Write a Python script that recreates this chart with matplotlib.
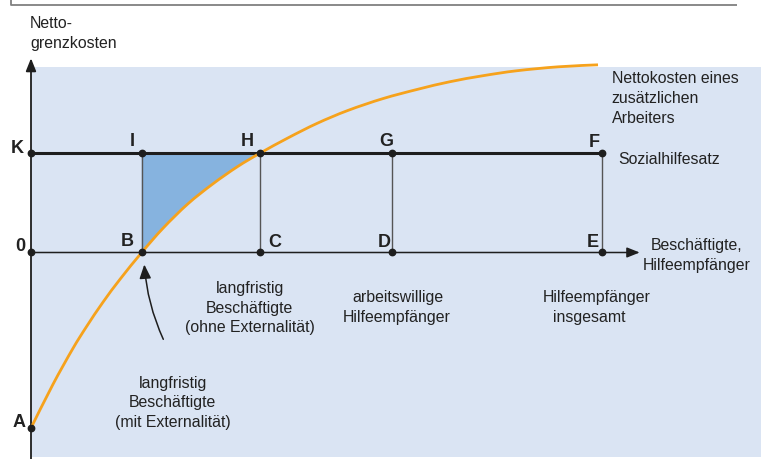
import matplotlib
matplotlib.use('Agg')
import matplotlib.pyplot as plt
from matplotlib.patches import Rectangle, FancyArrowPatch, PathPatch
from matplotlib.path import Path

plt.rcParams['font.family'] = ['Liberation Sans', 'DejaVu Sans']

# ---------------- data (abstract units) ----------------
curve_x = [0.0, 0.22, 0.42, 0.56, 0.725, 0.90, 1.115, 1.33, 1.58, 1.83, 2.08,
           2.306, 2.59, 2.88, 3.19, 3.545, 3.90, 4.22, 4.55, 4.89, 5.31, 5.71]
curve_y = [-1.767, -1.33, -0.97, -0.745, -0.50, -0.265, 0.0, 0.245, 0.49, 0.69, 0.865,
           1.0, 1.155, 1.30, 1.43, 1.55, 1.645, 1.72, 1.78, 1.83, 1.87, 1.89]

x_B, x_H, x_G, x_F = 1.115, 2.306, 3.64, 5.75
y_K = 1.0
y_A = -1.767
x_axis_end = 6.13
y_axis_end = 1.956

point_names = ['A', 'B', 'C', 'D', 'E', 'F', 'G', 'H', 'I', 'K', '0']
point_x = [0, x_B, x_H, x_G, x_F, x_F, x_G, x_H, x_B, 0, 0]
point_y = [y_A, 0, 0, 0, 0, y_K, y_K, y_K, y_K, y_K, 0]

y_label = ['Netto-', 'grenzkosten']
x_label = ['Beschäftigte,', 'Hilfeempfänger']
curve_label = ['Nettokosten eines', 'zusätzlichen', 'Arbeiters']
line_label = 'Sozialhilfesatz'
group_ohne = ['langfristig', 'Beschäftigte', '(ohne Externalität)']
group_mit = ['langfristig', 'Beschäftigte', '(mit Externalität)']
group_willig = ['arbeitswillige', 'Hilfeempfänger']
group_total = ['Hilfeempfänger', 'insgesamt']

# ---------------- layout ----------------
W, H = 761, 459
U = 99.3          # pixels per unit
X0, Y0 = 31, 252.5  # pixel position of origin

fig = plt.figure(figsize=(W / 100, H / 100), dpi=100)
ax = fig.add_axes([0, 0, 1, 1])
ax.set_xlim(-X0 / U, (W - X0) / U)
ax.set_ylim((Y0 - H) / U, Y0 / U)
ax.axis('off')


def d(px, py):
    return ((px - X0) / U, (Y0 - py) / U)


def smooth_path_parts(xs, ys):
    """Cubic Bezier segments passing through the given points (Catmull-Rom)."""
    pts = list(zip(xs, ys))
    n = len(pts)
    verts, codes = [pts[0]], [Path.MOVETO]
    for i in range(n - 1):
        p0 = pts[i - 1] if i > 0 else pts[i]
        p1 = pts[i]
        p2 = pts[i + 1]
        p3 = pts[i + 2] if i + 2 < n else pts[i + 1]
        c1 = (p1[0] + (p2[0] - p0[0]) / 6, p1[1] + (p2[1] - p0[1]) / 6)
        c2 = (p2[0] - (p3[0] - p1[0]) / 6, p2[1] - (p3[1] - p1[1]) / 6)
        verts += [c1, c2, p2]
        codes += [Path.CURVE4] * 3
    return verts, codes


BG = '#dae4f3'
FILL = '#86b3df'
ORANGE = '#f6a21c'
DARK = '#1e1e1e'
GRAY = '#555555'
TXT = '#222222'

# background panel
bx0, by0 = d(31, 456.7)
bx1, by1 = d(761, 66.7)
ax.add_patch(Rectangle((bx0, by0), bx1 - bx0, by1 - by0, facecolor=BG,
                       edgecolor='none', zorder=0))

# top frame remnant
tx = [d(10.7, -2)[0], d(10.7, 4.7)[0], d(737.3, 4.7)[0]]
ty = [d(10.7, -2)[1], d(10.7, 4.7)[1], d(737.3, 4.7)[1]]
ax.plot(tx, ty, color='#808080', lw=1.3, zorder=1, solid_capstyle='butt')

# shaded area between curve and K line (B..H)
i0, i1 = curve_x.index(x_B), curve_x.index(x_H)
fv, fc = smooth_path_parts(curve_x, curve_y)
seg_verts = fv[3 * i0: 3 * i1 + 1]
seg_codes = [Path.MOVETO] + [Path.CURVE4] * (3 * (i1 - i0))
fill_verts = [(x_B, y_K)] + seg_verts + [(x_H, y_K), (x_B, y_K)]
fill_codes = [Path.MOVETO, Path.LINETO] + seg_codes[1:] + [Path.LINETO, Path.CLOSEPOLY]
ax.add_patch(PathPatch(Path(fill_verts, fill_codes), facecolor=FILL,
                       edgecolor='none', zorder=1))

# vertical thin lines
for xv in [x_B, x_H, x_G, x_F]:
    ax.plot([xv, xv], [0, y_K], color=GRAY, lw=1.0, zorder=2)

# zero line with arrow
ax.annotate('', xy=(x_axis_end, 0), xytext=(0, 0),
            arrowprops=dict(arrowstyle='-|>,head_length=0.55,head_width=0.22',
                            color=DARK, lw=1.1, shrinkA=0, shrinkB=0,
                            mutation_scale=14), zorder=3)
# y axis with arrow
ax.annotate('', xy=(0, y_axis_end), xytext=(0, d(0, 459)[1]),
            arrowprops=dict(arrowstyle='-|>,head_length=0.55,head_width=0.22',
                            color=DARK, lw=1.3, shrinkA=0, shrinkB=0,
                            mutation_scale=14), zorder=3)
# K line (thick)
ax.plot([0, x_F], [y_K, y_K], color=DARK, lw=2.2, zorder=3, solid_capstyle='butt')

# curve (smooth path through the read points)
ax.add_patch(PathPatch(Path(fv, fc), facecolor='none', edgecolor=ORANGE,
                       lw=2.0, zorder=4, capstyle='butt'))

# points
ax.plot(point_x, point_y, 'o', ms=4.6, color=DARK, zorder=5)

# point labels (pixel offsets, y up)
offsets = {'A': (-12, 1), 'B': (-14, 6.5), 'C': (15, 5.7), 'D': (-8.5, 5.5),
           'E': (-9, 5.5), 'F': (-7.5, 6.5), 'G': (-6, 7), 'H': (-12.5, 7),
           'I': (-9.5, 6.7), 'K': (-13.5, 0.5), '0': (-11, 1.5)}
for name, px_, py_ in zip(point_names, point_x, point_y):
    ox, oy = offsets[name]
    ax.annotate(name, xy=(px_, py_), xytext=(ox, oy), textcoords='offset pixels',
                ha='center', va='baseline', fontsize=13, fontweight='bold',
                color=TXT, zorder=6)

FS = 11.4


def lines(texts, xs, baselines, ha='center'):
    for t, x, b in zip(texts, xs, baselines):
        ax.text(*d(x, b), t, fontsize=FS, color=TXT, ha=ha, va='baseline', zorder=6)


lines(y_label, [30, 30], [28, 48], ha='left')
lines(curve_label, [611.7] * 3, [83, 103, 123], ha='left')
lines([line_label], [618], [164.5], ha='left')
lines(x_label, [696.5, 697], [250, 270])
lines(group_ohne, [249.8, 249.8, 250], [292.5, 312.5, 332])
lines(group_mit, [172.8, 172.5, 172.5], [388, 407.5, 427])
lines(group_willig, [397.5, 397], [301.7, 321.7])
lines(group_total, [597, 589], [301.7, 321.7])

# curved arrow pointing to B
arr = FancyArrowPatch(d(163.3, 339.3), d(144.3, 264.5),
                      connectionstyle='arc3,rad=-0.09',
                      arrowstyle='-|>,head_length=0.6,head_width=0.25',
                      mutation_scale=14, color=DARK, lw=1.1,
                      shrinkA=0, shrinkB=0, zorder=6)
ax.add_patch(arr)

fig.savefig('out.png', dpi=100)
